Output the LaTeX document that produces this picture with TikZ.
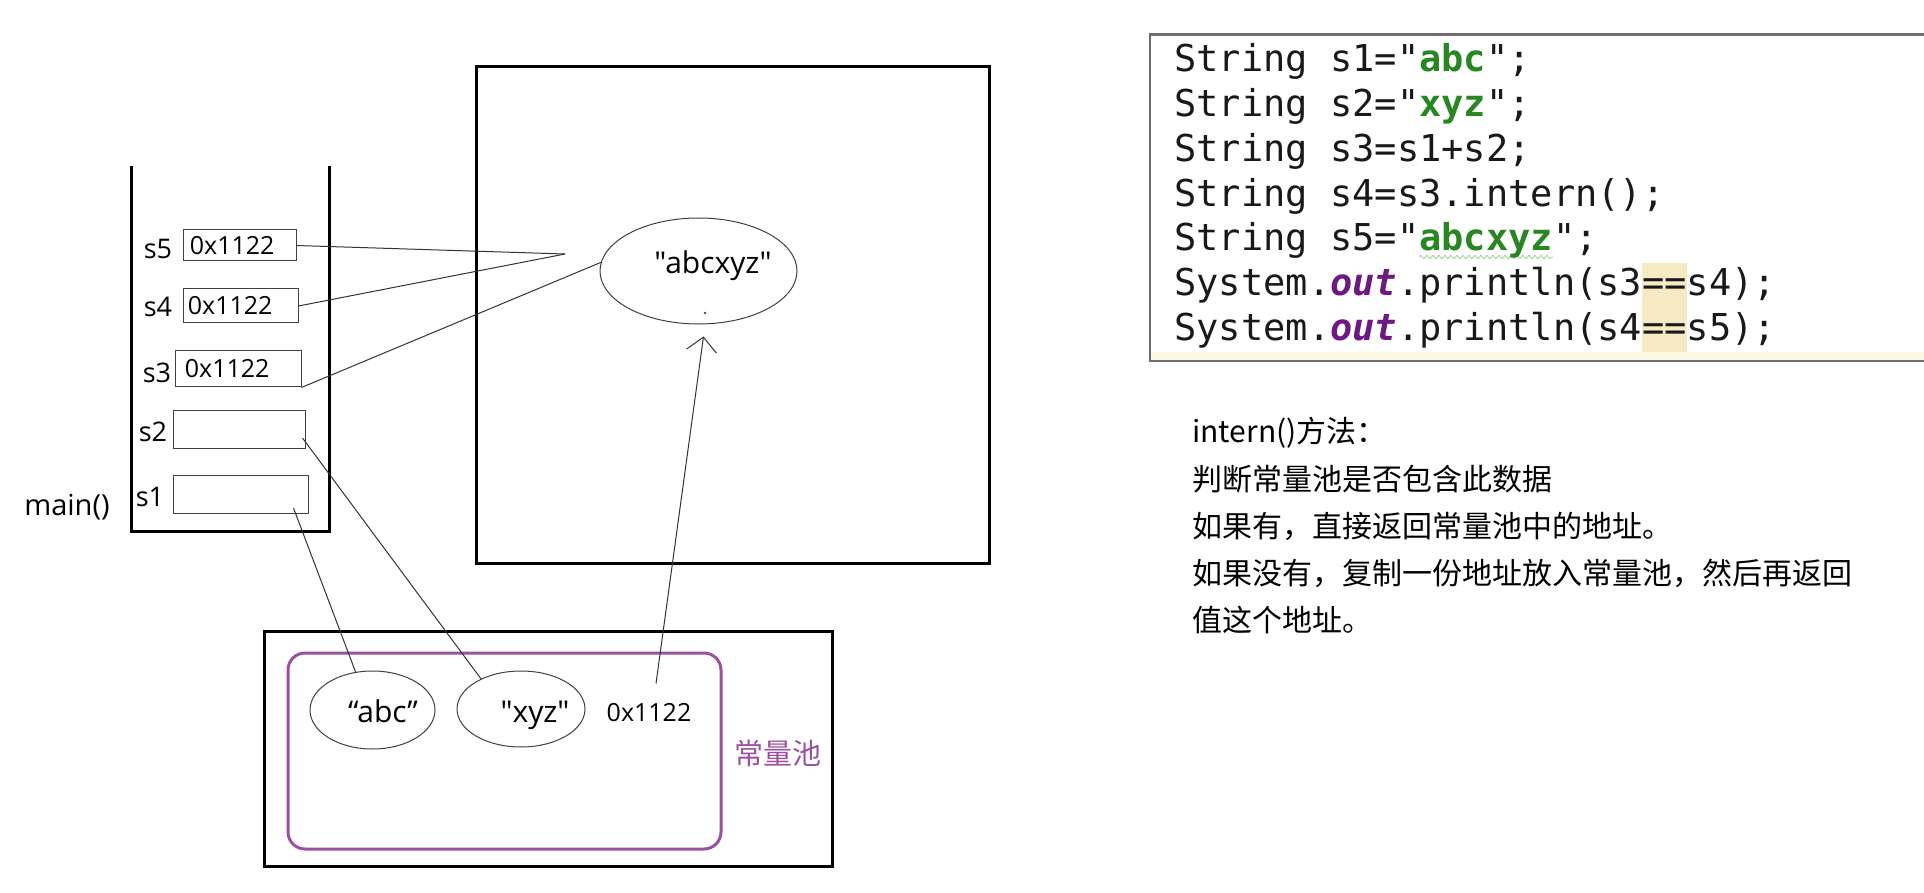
\documentclass[tikz,border=0pt]{standalone}
\usepackage{fontspec}
\newfontfamily\diagfont{Open Sans}
\newfontfamily\cjkfont{Noto Sans CJK SC}
\setmonofont{DejaVu Sans Mono}
\usetikzlibrary{arrows.meta,shapes.geometric,decorations.pathmorphing}
\definecolor{poolpurple}{RGB}{155,80,160}
\definecolor{strgreen}{RGB}{40,135,35}
\definecolor{fieldpurple}{RGB}{110,25,130}
\definecolor{codeframe}{RGB}{110,110,110}
\definecolor{marktan}{RGB}{245,234,196}
\definecolor{lineyellow}{RGB}{253,248,228}
\definecolor{wavegreen}{RGB}{150,205,150}
\newcommand{\strlit}[1]{\textcolor{strgreen}{\bfseries #1}}
\newcommand{\fieldname}[1]{\textcolor{fieldpurple}{\bfseries\itshape #1}}
\tikzset{%
  >={Straight Barb[length=7pt,width=15pt]},
  % boxes of the picture
        wall/.style = {line width=1.5pt},
        slot/.style = {rectangle, draw=black!75, line width=0.5pt, inner sep=0pt},
        blob/.style = {ellipse, draw=black!75, line width=0.5pt, inner sep=0pt},
  % texts
         var/.style = {inner sep=0pt, font=\diagfont\fontsize{13.5}{16}\selectfont},
        addr/.style = {inner sep=0pt, font=\diagfont\fontsize{12.5}{15}\selectfont},
     literal/.style = {inner sep=0pt, font=\diagfont\fontsize{15}{18}\selectfont},
    codeline/.style = {inner sep=0pt, font=\ttfamily\fontsize{18.5}{22}\selectfont, text=black!90},
        note/.style = {inner sep=0pt, font=\cjkfont\fontsize{15}{18}\selectfont},
  % connectors
        link/.style = {draw=black!80, line width=0.5pt},
}

\begin{document}
\begin{tikzpicture}[x=0.5pt, y=-0.5pt]
  \useasboundingbox (0,0) rectangle (1924,893);

  % stack frame of main()
  \draw[wall] (131,166) -- (131,531) -- (329,531) -- (329,166);
  \node (main) [var, font=\diagfont\fontsize{14.5}{17}\selectfont] at (67,507) {main()};

  \node (b5) [slot, minimum width=56.5pt, minimum height=15.5pt] at (239.5,245.5) {};
  \node (b4) [slot, minimum width=57.5pt, minimum height=17pt]   at (240.5,306) {};
  \node (b3) [slot, minimum width=63pt,   minimum height=18pt]   at (238,369) {};
  \node (b2) [slot, minimum width=66pt,   minimum height=19pt]   at (239,430) {};
  \node (b1) [slot, minimum width=67.5pt, minimum height=19pt]   at (240.5,494) {};

  \node (s5) [var, anchor=east] at ([xshift=-5pt,yshift=-1.75pt]b5.west) {s5};
  \node (s4) [var, anchor=east] at ([xshift=-5pt,yshift=-0.5pt]b4.west) {s4};
  \node (s3) [var, anchor=east] at ([xshift=-1.5pt,yshift=-2pt]b3.west) {s3};
  \node (s2) [var, anchor=east] at ([xshift=-2.5pt,yshift=-1pt]b2.west) {s2};
  \node (s1) [var, anchor=east] at ([xshift=-4pt,yshift=-1.5pt]b1.west) {s1};

  \node (a5) [addr, anchor=west] at ([xshift=3.5pt]b5.west) {0x1122};
  \node (a4) [addr, anchor=west] at ([xshift=2.5pt]b4.west) {0x1122};
  \node (a3) [addr, anchor=west] at ([xshift=5pt]b3.west) {0x1122};

  % heap
  \draw[wall] (476,67) rectangle (989,563);
  \node (str) [blob, minimum width=98.5pt, minimum height=53pt] at (698.5,271) {};
  \node (strtxt) [literal, anchor=base] at (713,274) {"abcxyz"};
  \fill[black!70] (705,313) circle (0.7pt);

  % constant pool
  \draw[wall] (264,631) rectangle (832,866);
  \draw[poolpurple, line width=1.5pt, rounded corners=8.5pt] (288,653) rectangle (721,849);
  \node (poolname) [note, text=poolpurple, font=\cjkfont\fontsize{14.5}{17}\selectfont] at (778,753) {常量池};
  \node (abc) [blob, minimum width=62.5pt, minimum height=39pt] at (372.5,710) {};
  \node (xyz) [blob, minimum width=64pt, minimum height=38pt] at (521,709) {};
  \node (abctxt) [literal, anchor=base] at (383,722) {“abc”};
  \node (xyztxt) [literal, anchor=base] at (535,722) {"xyz"};
  \node (pooladdr) [addr, anchor=base] at (649,721) {0x1122};

  % references
  \coordinate (meet) at (565,254);
  \draw[link] (b5.east) -- (meet);
  \draw[link] (b4.east) -- (meet);
  \draw[link] (b3.south east) -- (str.175);
  \draw[link] ([xshift=-1.5pt,yshift=-4pt]b2.east) -- (xyz.143);
  \draw[link] ([xshift=-7.5pt,yshift=-7pt]b1.east) -- (abc.114);
  \draw[link, ->] ([xshift=3.5pt,yshift=9.5pt]pooladdr.north) -- ([xshift=2.5pt,yshift=-6pt]str.south);

  % code panel
  \fill[lineyellow] (1151,352) rectangle (1924,360);
  \fill[marktan] (1642,263) rectangle (1687,352);
  \draw[codeframe, line width=1.2pt] (1924,34.5) -- (1150,34.5) -- (1150,361) -- (1924,361);
  \draw[wavegreen, line width=0.4pt, decorate,
        decoration={snake, segment length=3pt, amplitude=0.8pt}] (1419,257) -- (1553,257);
  \foreach \src [count=\i] in {{String s1="\strlit{abc}";},
                               {String s2="\strlit{xyz}";},
                               {String s3=s1+s2;},
                               {String s4=s3.intern();},
                               {String s5="\strlit{abcxyz}";},
                               {System.\fieldname{out}.println(s3==s4);},
                               {System.\fieldname{out}.println(s4==s5);}}
    \node (code\i) [codeline, anchor=base west] at (1174,{72+44.7*(\i-1)}) {\src};

  % note on intern()
  \foreach \txt [count=\i] in {{intern()方法：},
                               {判断常量池是否包含此数据},
                               {如果有，直接返回常量池中的地址。},
                               {如果没有，复制一份地址放入常量池，然后再返回},
                               {值这个地址。}}
    \node (note\i) [note, anchor=base west] at (1192,{443+47.2*(\i-1)}) {\txt};
\end{tikzpicture}
\end{document}
